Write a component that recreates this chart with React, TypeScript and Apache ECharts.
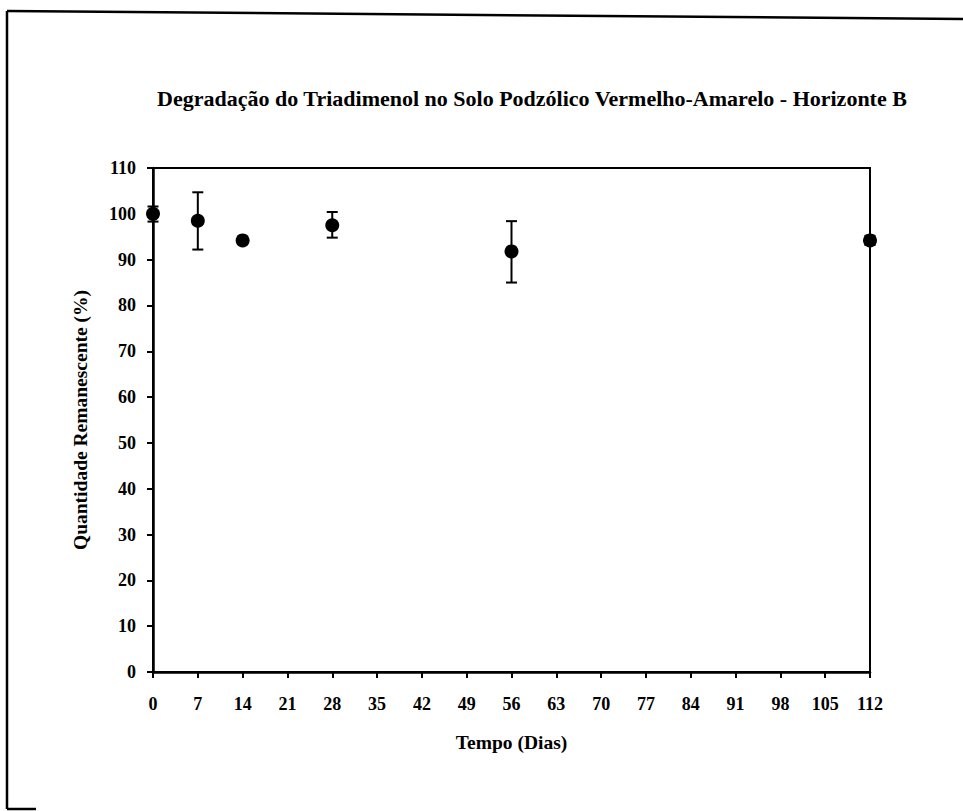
import React, { useEffect, useRef } from "react";
import * as echarts from "echarts";

const titleText = "Degradação do Triadimenol no Solo Podzólico Vermelho-Amarelo - Horizonte B";
const xName = "Tempo (Dias)";
const yName = "Quantidade Remanescente (%)";
const days = [0, 7, 14, 28, 56, 112];
const remaining = [100.0, 98.5, 94.2, 97.5, 91.8, 94.2];
const errLow = [98.3, 92.2, 93.7, 94.8, 85.0, 93.2];
const errHigh = [101.6, 104.7, 94.7, 100.4, 98.4, 95.2];

const FONT = "'Liberation Serif', 'Times New Roman', serif";

export default function App() {
  const ref = useRef<HTMLDivElement>(null);
  useEffect(() => {
    if (!ref.current) return;
    const chart = echarts.init(ref.current, null, { renderer: "svg" });
    const points = days.map((d, i) => [d, remaining[i]]);
    const errs = days.map((d, i) => [d, errLow[i], errHigh[i]]);
    chart.setOption({
      animation: false,
      backgroundColor: "#fff",
      title: {
        text: titleText,
        left: 527,
        top: 82,
        textAlign: "center",
        textStyle: { fontFamily: FONT, fontWeight: "bold", fontSize: 22, color: "#000" },
      },
      graphic: [
        { type: "line", shape: { x1: 7, y1: 11, x2: 963, y2: 19 }, style: { stroke: "#000", lineWidth: 2.5 } },
        { type: "line", shape: { x1: 7, y1: 11, x2: 7, y2: 809 }, style: { stroke: "#000", lineWidth: 2.5 } },
        { type: "line", shape: { x1: 7, y1: 809, x2: 36, y2: 809 }, style: { stroke: "#000", lineWidth: 2.5 } },
      ],
      grid: {
        left: 153,
        right: 93,
        top: 168,
        bottom: 139,
        show: true,
        borderColor: "#000",
        borderWidth: 2,
      },
      xAxis: {
        type: "value",
        min: 0,
        max: 112,
        interval: 7,
        name: xName,
        nameLocation: "middle",
        nameGap: 60,
        nameTextStyle: { fontFamily: FONT, fontWeight: "bold", fontSize: 19.5, color: "#000" },
        axisLine: { show: true, lineStyle: { color: "#000", width: 2.5 } },
        axisTick: { show: true, length: 6, lineStyle: { color: "#000", width: 2 } },
        axisLabel: { fontFamily: FONT, fontWeight: "bold", fontSize: 18, color: "#000", margin: 23 },
        splitLine: { show: false },
      },
      yAxis: {
        type: "value",
        min: 0,
        max: 110,
        interval: 10,
        name: yName,
        nameLocation: "middle",
        nameGap: 63,
        nameTextStyle: { fontFamily: FONT, fontWeight: "bold", fontSize: 19.5, color: "#000" },
        axisLine: { show: true, lineStyle: { color: "#000", width: 2.5 } },
        axisTick: { show: true, length: 6, lineStyle: { color: "#000", width: 2 } },
        axisLabel: { fontFamily: FONT, fontWeight: "bold", fontSize: 18, color: "#000", margin: 17 },
        splitLine: { show: false },
      },
      series: [
        {
          type: "custom",
          data: errs,
          encode: { x: 0, y: [1, 2] },
          renderItem: (params: any, api: any) => {
            const x = api.value(0);
            const lo = api.coord([x, api.value(1)]);
            const hi = api.coord([x, api.value(2)]);
            const w = 5.5;
            const style = { stroke: "#000", lineWidth: 2 };
            return {
              type: "group",
              children: [
                { type: "line", shape: { x1: lo[0], y1: lo[1], x2: hi[0], y2: hi[1] }, style },
                { type: "line", shape: { x1: lo[0] - w, y1: lo[1], x2: lo[0] + w, y2: lo[1] }, style },
                { type: "line", shape: { x1: hi[0] - w, y1: hi[1], x2: hi[0] + w, y2: hi[1] }, style },
              ],
            };
          },
          z: 2,
        },
        {
          type: "scatter",
          data: points,
          symbol: "circle",
          symbolSize: 14,
          itemStyle: { color: "#000", opacity: 1 },
          z: 3,
        },
      ],
    });
    return () => chart.dispose();
  }, []);
  return <div ref={ref} style={{ width: 963, height: 811, position: "absolute", left: 0, top: 0 }} />;
}
